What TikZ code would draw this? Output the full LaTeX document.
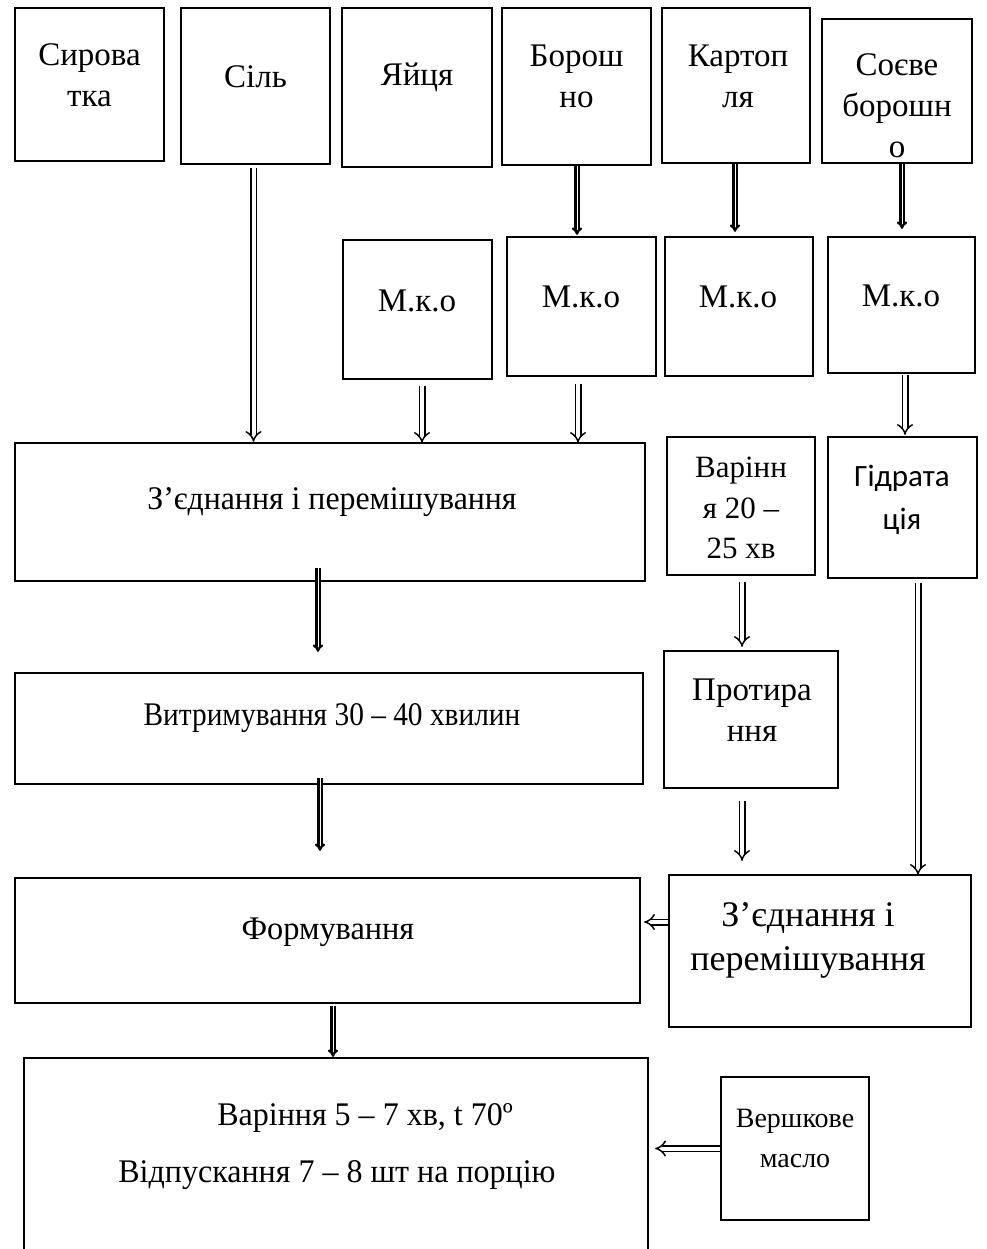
\documentclass[tikz,border=0pt]{standalone}
\usepackage{fontspec}
\setmainfont{Liberation Serif}
\newfontfamily\calfont{Carlito}
\usetikzlibrary{arrows.meta,calc}
\newcommand\bx[5]{\node[box,minimum width={#4-#2},minimum height={#5-#3}] (#1) at ({(#2+#4)/2},{(#3+#5)/2}) {};}
\begin{document}
\begin{tikzpicture}[x=1pt,y=-1pt,
  box/.style={draw,line width=2.2pt,inner sep=0pt,fill=white},
  lbl/.style={align=center,font=\fontsize{33}{41}\selectfont,inner sep=0pt},
  wide/.style={align=center,font=\fontsize{33}{41}\selectfont,inner sep=0pt},
  hol/.style={double,double distance=4pt,line width=1.5pt,-{Implies}},
  sol/.style={double,double distance=0.9pt,line width=2.2pt,-{Implies}}
]
\useasboundingbox (0,0) rectangle (986,1249);
\clip (0,0) rectangle (986,1249);
\fill[white] (0,0) rectangle (986,1249);
% row 1
\bx{syr}{15}{8}{164}{161}
\bx{sil}{181}{8}{330}{164}
\bx{yay}{342}{8}{492}{167}
\bx{bor}{502}{8}{651}{165}
\bx{kar}{662}{8}{810}{163}
\bx{soe}{822}{19}{972}{163}
% row 2
\bx{mko1}{343}{240}{492}{379}
\bx{mko2}{507}{237}{656}{376}
\bx{mko3}{665}{237}{813}{376}
\bx{mko4}{828}{237}{975}{373}
% row 3
\bx{join}{15}{443}{645}{581}
\bx{var}{667}{437}{815}{575}
\bx{gid}{828}{437}{977}{578}
% row 4
\bx{vyt}{15}{673}{643}{784}
\bx{prot}{664}{651}{838}{788}
% row 5
\bx{form}{15}{878}{640}{1003}
\bx{join2}{669}{875}{971}{1027}
% row 6
\bx{big}{24}{1058}{648}{1290}
\bx{maslo}{721}{1077}{869}{1220}
% labels
\node[lbl] (syr-t) at (89.5,75) {Сирова\\тка};
\node[lbl] (sil-t) at (255.5,77) {Сіль};
\node[lbl] (yay-t) at (417,77) {Яйця};
\node[lbl] (bor-t) at (576.5,76) {Борош\\но};
\node[lbl] (kar-t) at (738,76) {Картоп\\ля};
\node[lbl] (soe-t) at (897,106) {Соєве\\борошн\\о};
\node[lbl] (mko1-t) at (417,301) {М.к.о};
\node[lbl] (mko2-t) at (581,297) {М.к.о};
\node[lbl] (mko3-t) at (738,297) {М.к.о};
\node[lbl] (mko4-t) at (901,296) {М.к.о};
\node[wide] (join-t) at (332,502) {\scalebox{0.965}[1]{З’єднання і перемішування}};
\node[lbl,font=\fontsize{31}{40.5}\selectfont] (var-t) at (741,508) {Варінн\\я 20 –\\25 хв};
\node[lbl,font=\calfont\fontsize{31}{43}\selectfont] (gid-t) at (902,500) {Гідрата\\ція};
\node[wide] (vyt-t) at (332,718) {\scalebox{0.89}[1]{Витримування 30 – 40 хвилин}};
\node[lbl] (prot-t) at (752,710) {Протира\\ння};
\node[wide] (form-t) at (328,932) {\scalebox{0.98}[1]{Формування}};
\node[lbl,font=\fontsize{36}{44}\selectfont] (join2-t) at (808,940) {З’єднання і\\перемішування};
\node[wide] (big-t1) at (365,1118) {\scalebox{0.97}[1]{Варіння 5 – 7 хв, t 70º}};
\node[wide] (big-t2) at (337,1175) {\scalebox{0.97}[1]{Відпускання 7 – 8 шт на порцію}};
\node[lbl,font=\fontsize{28}{40}\selectfont] (maslo-t) at (795,1138) {Вершкове\\масло};
% arrows
\draw[hol] ($(sil.south)+(-2,3)$) -- ($(sil.south |- join.north)+(-2,0)$);
\draw[sol] ($(bor.south)+(0.5,0)$) -- ($(bor.south |- mko2.north)+(0.5,-1)$);
\draw[sol] ($(kar.south)+(-1,0)$) -- ($(kar.south |- mko3.north)+(-1,-4)$);
\draw[sol] ($(soe.south)+(5,0)$) -- ($(soe.south |- mko4.north)+(5,-7)$);
\draw[hol] ($(mko1.south)+(4.5,6)$) -- ($(mko1.south |- join.north)+(4.5,1)$);
\draw[hol] ($(mko2.south)+(-3.5,7)$) -- ($(mko2.south |- join.north)+(-3.5,1)$);
\draw[hol] ($(mko4.south)+(3.5,1)$) -- ($(mko4.south |- gid.north)+(3.5,-1)$);
\draw[sol] ($(join.south)+(-12,-14)$) -- ($(join.south |- vyt.north)+(-12,-20)$);
\draw[hol] ($(var.south)+(1,6)$) -- ($(var.south |- prot.north)+(1,-3)$);
\draw[hol] ($(gid.south)+(15.5,4)$) -- ($(gid.south |- join2.north)+(15.5,1)$);
\draw[sol] ($(vyt.south)+(-9,-7)$) -- ($(vyt.south |- form.north)+(-9,-26)$);
\draw[hol] ($(prot.south)+(-9,12)$) -- ($(prot.south |- join2.north)+(-9,-13)$);
\draw[hol] ($(join2.west)+(0,-29)$) -- ($(join2.west -| form.east)+(3,-29)$);
\draw[sol] ($(form.south)+(5.5,2)$) -- ($(form.south |- big.north)+(5.5,0)$);
\draw[hol] ($(maslo.west)+(0,0)$) -- ($(maslo.west -| big.east)+(6,0)$);
\end{tikzpicture}
\end{document}
